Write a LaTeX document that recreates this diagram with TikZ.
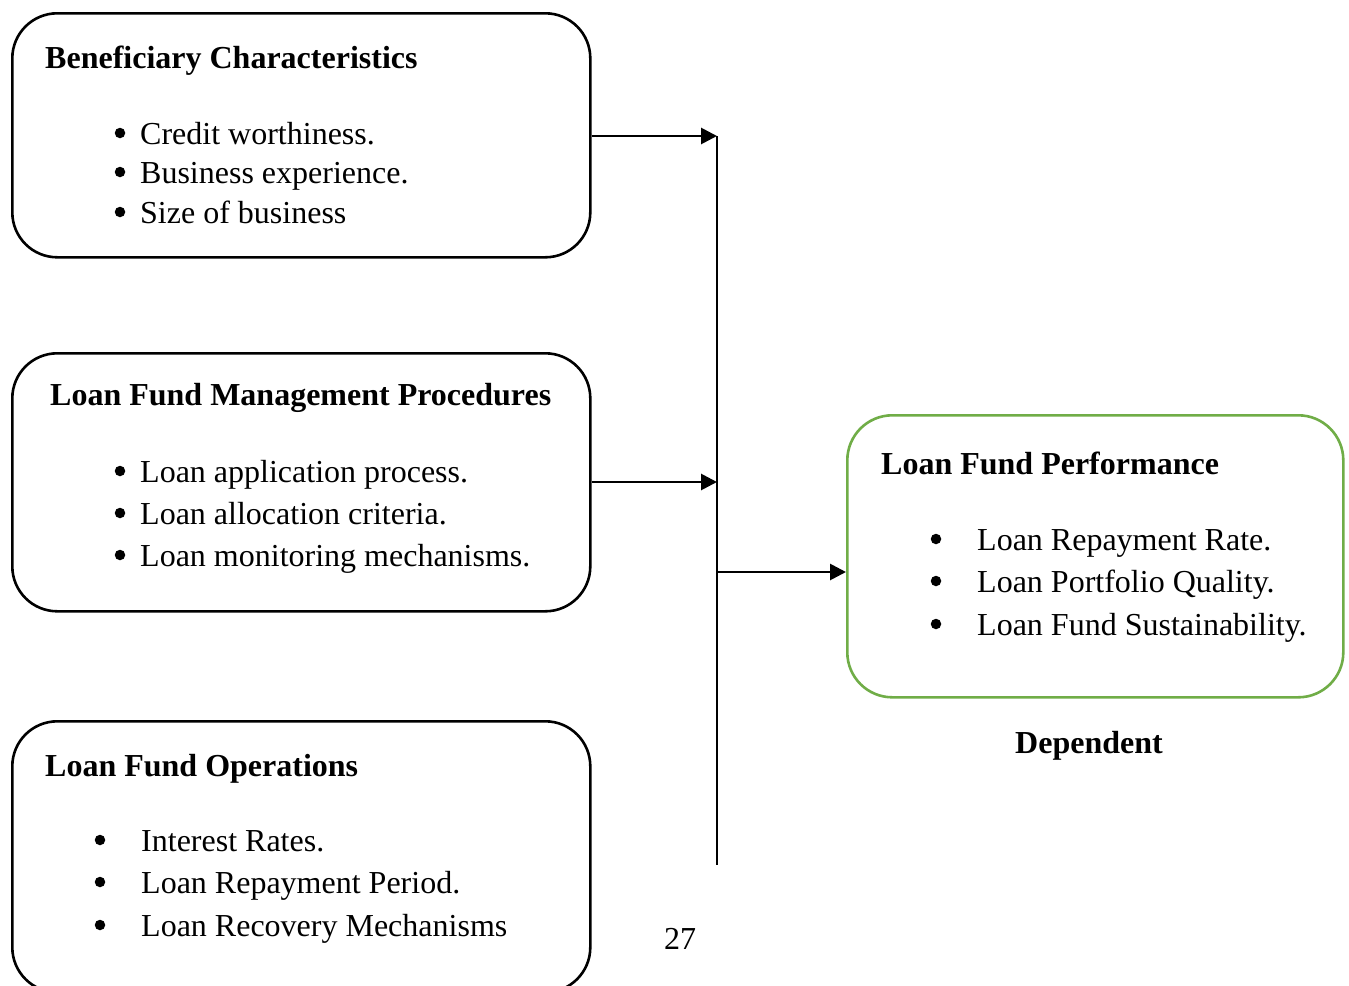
\documentclass[tikz,border=0pt]{standalone}
\usepackage{fontspec}
\setmainfont{Liberation Serif}
\usetikzlibrary{arrows.meta}
\definecolor{boxgreen}{RGB}{112,173,71}
\begin{document}
\begin{tikzpicture}[x=1pt,y=-1pt,
  box/.style={draw, line width=2.6pt, rounded corners=45pt, minimum width=578pt, anchor=north west, inner sep=0pt},
  gbox/.style={box, draw=boxgreen, minimum width=496pt, minimum height=282pt},
  txt/.style={anchor=base west, inner sep=0pt, font=\fontsize{32}{40}\selectfont},
  ttl/.style={txt, font=\fontsize{32}{40}\selectfont\bfseries},
  bul/.style={circle, fill, inner sep=0pt, minimum size=10.5pt, yshift=11pt},
  arr/.style={line width=2.8pt, -{Triangle[length=16pt,width=16pt]}},
  bus/.style={line width=1.4pt}]
\useasboundingbox (0,0) rectangle (1349,985);
\fill[white] (0,0) rectangle (1349,985);
\clip (0,0) rectangle (1349,985);

% Box 1
\node[box, minimum height=244pt] (b1) at (11,12) {};
\node[ttl] (t1) at (45,68) {Beneficiary Characteristics};
\node[bul] (d11) at (120,144) {};
\node[txt] (l11) at (140,144) {Credit worthiness.};
\node[bul] (d12) at (120,183) {};
\node[txt] (l12) at (140,183) {Business experience.};
\node[bul] (d13) at (120,223) {};
\node[txt] (l13) at (140,223) {Size of business};

% Box 2
\node[box, minimum height=258pt] (b2) at (11,352) {};
\node[ttl] (t2) at (50,405) {Loan Fund Management Procedures};
\node[bul] (d21) at (120,482) {};
\node[txt] (l21) at (140,482) {Loan application process.};
\node[bul] (d22) at (120,524) {};
\node[txt] (l22) at (140,524) {Loan allocation criteria.};
\node[bul] (d23) at (120,566) {};
\node[txt] (l23) at (140,566) {Loan monitoring mechanisms.};

% Box 3
\node[box, minimum height=271pt] (b3) at (11,720) {};
\node[ttl] (t3) at (45,776) {Loan Fund Operations};
\node[bul] (d31) at (100,851) {};
\node[txt] (l31) at (141,851) {Interest Rates.};
\node[bul] (d32) at (100,893) {};
\node[txt] (l32) at (141,893) {Loan Repayment Period.};
\node[bul] (d33) at (100,936) {};
\node[txt] (l33) at (141,936) {Loan Recovery Mechanisms};

% Green box
\node[gbox] (g) at (846,414) {};
\node[ttl] (tg) at (881,474) {Loan Fund Performance};
\node[bul] (dg1) at (936,550) {};
\node[txt] (lg1) at (977,550) {Loan Repayment Rate.};
\node[bul] (dg2) at (936,592) {};
\node[txt] (lg2) at (977,592) {Loan Portfolio Quality.};
\node[bul] (dg3) at (936,635) {};
\node[txt] (lg3) at (977,635) {Loan Fund Sustainability.};

\node[anchor=base, inner sep=0pt, font=\fontsize{32}{40}\selectfont\bfseries] (dep) at (1089,753) {Dependent};
\node[anchor=base, inner sep=0pt, font=\fontsize{32}{40}\selectfont] (pg) at (680,949) {27};

% Connectors
\coordinate (bt) at (717,136);
\coordinate (bm) at (717,482);
\coordinate (gj) at (717,572);
\coordinate (bb) at (717,865);
\draw[bus] (bt) -- (bb);
\draw[arr] (b1.east |- bt) -- (bt);
\draw[arr] (b2.east |- bm) -- (bm);
\draw[arr] (gj) -- (gj -| g.west);
\end{tikzpicture}
\end{document}
